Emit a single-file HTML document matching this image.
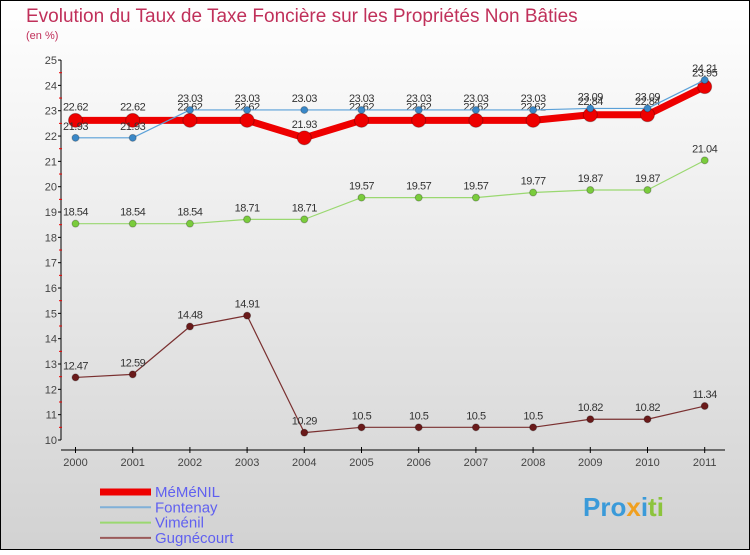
<!DOCTYPE html>
<html><head><meta charset="utf-8"><style>
html,body{margin:0;padding:0}
body{width:750px;height:550px;overflow:hidden;font-family:"Liberation Sans",sans-serif}
</style></head><body>
<svg width="750" height="550" xmlns="http://www.w3.org/2000/svg">
<defs><linearGradient id="bg" x1="0" y1="0" x2="0" y2="1"><stop offset="0" stop-color="#ffffff"/><stop offset="1" stop-color="#d2d2d2"/></linearGradient></defs>
<rect x="0.5" y="0.5" width="749" height="549" fill="url(#bg)" stroke="#000"/>
<text x="26" y="22" font-size="19" fill="#c0305a">Evolution du Taux de Taxe Foncière sur les Propriétés Non Bâties</text>
<text x="26" y="39" font-size="11" fill="#c0305a">(en %)</text>
<g id="axes"></g>
<g id="series"></g>
<g id="legend"></g>
<text x="583" y="516" font-size="26" font-weight="bold" fill="#3a9ad9">Pro<tspan fill="#f0a020">x</tspan><tspan fill="#3a9ad9">i</tspan><tspan fill="#8cc43c">ti</tspan></text>
</svg>
<script>
const years=[2000,2001,2002,2003,2004,2005,2006,2007,2008,2009,2010,2011];
const memenil=[22.62,22.62,22.62,22.62,21.93,22.62,22.62,22.62,22.62,22.84,22.84,23.95];
const fontenay=[21.93,21.93,23.03,23.03,23.03,23.03,23.03,23.03,23.03,23.09,23.09,24.21];
const vimenil=[18.54,18.54,18.54,18.71,18.71,19.57,19.57,19.57,19.77,19.87,19.87,21.04];
const gugnecourt=[12.47,12.59,14.48,14.91,10.29,10.5,10.5,10.5,10.5,10.82,10.82,11.34];
const yTicks=[10,11,12,13,14,15,16,17,18,19,20,21,22,23,24,25];
const seriesNames=["MéMéNIL","Fontenay","Viménil","Gugnécourt"];
const NS="http://www.w3.org/2000/svg";
const X=i=>75.5+i*57.2;
const Y=v=>440-(v-10)*25.33;
function mk(tag,attrs,parent){const e=document.createElementNS(NS,tag);for(const k in attrs)e.setAttribute(k,attrs[k]);parent.appendChild(e);return e;}
const axes=document.getElementById('axes');
let yl=mk('line',{x1:61,y1:Y(25),x2:61,y2:Y(10),stroke:'#000'},axes);


let xl=mk('line',{x1:61,y1:450,x2:725,y2:450,stroke:'#000'},axes);


yTicks.forEach(v=>{
  mk('line',{x1:58,y1:Y(v),x2:61,y2:Y(v),stroke:'#000'},axes);
  if(v<25)mk('line',{x1:59,y1:Y(v+0.5),x2:62,y2:Y(v+0.5),stroke:'#e00'},axes);
  const t=mk('text',{x:57,y:Y(v)+4,'font-size':11,'text-anchor':'end',fill:'#444'},axes);
  t.textContent=v;
  
  
});
years.forEach((yr,i)=>{
  mk('line',{x1:X(i),y1:447,x2:X(i),y2:453,stroke:'#000'},axes);
  const t=mk('text',{x:X(i),y:466,'font-size':11,'text-anchor':'middle',fill:'#444'},axes);
  t.textContent=yr;
  
  
});
const sg=document.getElementById('series');
function draw(vals,color,w,r,mcol,name,dy){
  const g=mk('g',{},sg);
  
  
  mk('polyline',{points:vals.map((v,i)=>X(i)+','+Y(v)).join(' '),fill:'none',stroke:color,'stroke-width':w,'stroke-linejoin':'round'},g);
  vals.forEach((v,i)=>{
    const c=mk('circle',{cx:X(i),cy:Y(v),r:r,fill:mcol,stroke:'rgba(0,0,0,0.25)','stroke-width':1},g);
    
    
    const t=mk('text',{x:X(i),y:Y(v)-dy,'font-size':11,'text-anchor':'middle',fill:'#333','letter-spacing':'-0.5'},g);
    t.textContent=v;
    
    
  });
}
draw(gugnecourt,'#7a3030',1.2,3.5,'#6a1a1a','series-gugnecourt',8);
draw(vimenil,'#9ad870',1.2,3.5,'#7acc3c','series-vimenil',8);
draw(memenil,'#ee0000',7,7,'#ee0000','series-memenil',10);
draw(fontenay,'#5aa0d8',1.2,3.5,'#3a88c8','series-fontenay',8);
const lg=document.getElementById('legend');
const lcol=['#ee0000','#80b0d8','#9ad870','#9a5a5a'];
const lw=[7,2,2,2];
seriesNames.forEach((n,i)=>{
  const y=492+i*15.3;
  const g=mk('g',{},lg);
  
  
  mk('line',{x1:100,y1:y,x2:151,y2:y,stroke:lcol[i],'stroke-width':lw[i]},g);
  const t=mk('text',{x:155,y:y+5,'font-size':15,fill:'#6060f0'},g);
  t.textContent=n;
});
</script>
</body></html>
